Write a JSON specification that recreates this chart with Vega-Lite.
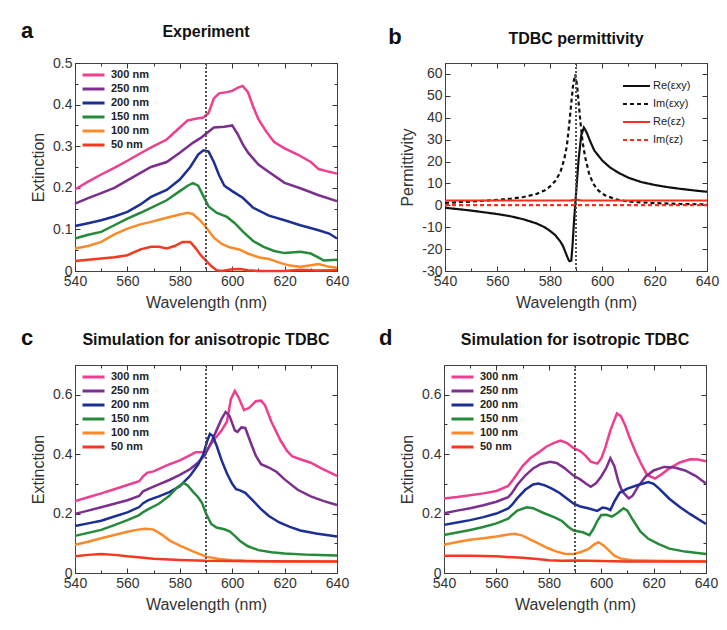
{
"$schema":"https://vega.github.io/schema/vega-lite/v6.json",
"padding":{"left":21,"top":19,"right":10,"bottom":5},
"background":"white",
"config":{
 "font":"Liberation Sans",
 "view":{"stroke":"#444","strokeWidth":1},
 "axis":{"labelFontSize":14,"titleFontSize":16,"titleFontWeight":"normal","labelColor":"#333","titleColor":"#333","domain":false,"grid":false,"tickColor":"#333","tickWidth":1,"labelFlush":false,"labelOverlap":false,"titlePadding":6},
 "title":{"fontSize":16,"fontWeight":"bold","color":"#111"}
},
"datasets":{
"a":[
{"s":"300 nm","w":540,"v":0.196},{"s":"300 nm","w":545,"v":0.215},{"s":"300 nm","w":550,"v":0.232},{"s":"300 nm","w":555,"v":0.248},{"s":"300 nm","w":560,"v":0.265},{"s":"300 nm","w":565,"v":0.283},{"s":"300 nm","w":570,"v":0.3},{"s":"300 nm","w":575,"v":0.316},{"s":"300 nm","w":580,"v":0.345},{"s":"300 nm","w":583,"v":0.362},{"s":"300 nm","w":586,"v":0.366},{"s":"300 nm","w":589,"v":0.369},{"s":"300 nm","w":591,"v":0.38},{"s":"300 nm","w":593,"v":0.415},{"s":"300 nm","w":595,"v":0.427},{"s":"300 nm","w":598,"v":0.43},{"s":"300 nm","w":600,"v":0.433},{"s":"300 nm","w":602,"v":0.44},{"s":"300 nm","w":604,"v":0.445},{"s":"300 nm","w":606,"v":0.43},{"s":"300 nm","w":608,"v":0.395},{"s":"300 nm","w":610,"v":0.365},{"s":"300 nm","w":613,"v":0.335},{"s":"300 nm","w":616,"v":0.31},{"s":"300 nm","w":620,"v":0.295},{"s":"300 nm","w":625,"v":0.28},{"s":"300 nm","w":630,"v":0.262},{"s":"300 nm","w":633,"v":0.245},{"s":"300 nm","w":636,"v":0.24},{"s":"300 nm","w":640,"v":0.234},
{"s":"250 nm","w":540,"v":0.162},{"s":"250 nm","w":545,"v":0.175},{"s":"250 nm","w":550,"v":0.187},{"s":"250 nm","w":555,"v":0.2},{"s":"250 nm","w":560,"v":0.218},{"s":"250 nm","w":565,"v":0.236},{"s":"250 nm","w":569,"v":0.25},{"s":"250 nm","w":575,"v":0.262},{"s":"250 nm","w":580,"v":0.284},{"s":"250 nm","w":585,"v":0.308},{"s":"250 nm","w":588,"v":0.32},{"s":"250 nm","w":590,"v":0.33},{"s":"250 nm","w":593,"v":0.345},{"s":"250 nm","w":597,"v":0.347},{"s":"250 nm","w":600,"v":0.35},{"s":"250 nm","w":602,"v":0.33},{"s":"250 nm","w":604,"v":0.305},{"s":"250 nm","w":606,"v":0.285},{"s":"250 nm","w":610,"v":0.256},{"s":"250 nm","w":614,"v":0.238},{"s":"250 nm","w":620,"v":0.212},{"s":"250 nm","w":626,"v":0.199},{"s":"250 nm","w":633,"v":0.182},{"s":"250 nm","w":640,"v":0.168},
{"s":"200 nm","w":540,"v":0.108},{"s":"200 nm","w":545,"v":0.115},{"s":"200 nm","w":550,"v":0.122},{"s":"200 nm","w":555,"v":0.131},{"s":"200 nm","w":560,"v":0.142},{"s":"200 nm","w":565,"v":0.16},{"s":"200 nm","w":569,"v":0.178},{"s":"200 nm","w":575,"v":0.195},{"s":"200 nm","w":580,"v":0.22},{"s":"200 nm","w":584,"v":0.25},{"s":"200 nm","w":587,"v":0.28},{"s":"200 nm","w":589,"v":0.29},{"s":"200 nm","w":591,"v":0.287},{"s":"200 nm","w":593,"v":0.262},{"s":"200 nm","w":595,"v":0.23},{"s":"200 nm","w":597,"v":0.205},{"s":"200 nm","w":600,"v":0.192},{"s":"200 nm","w":604,"v":0.176},{"s":"200 nm","w":608,"v":0.152},{"s":"200 nm","w":614,"v":0.133},{"s":"200 nm","w":620,"v":0.122},{"s":"200 nm","w":626,"v":0.11},{"s":"200 nm","w":633,"v":0.098},{"s":"200 nm","w":637,"v":0.09},{"s":"200 nm","w":640,"v":0.078},
{"s":"150 nm","w":540,"v":0.078},{"s":"150 nm","w":545,"v":0.087},{"s":"150 nm","w":550,"v":0.094},{"s":"150 nm","w":555,"v":0.11},{"s":"150 nm","w":560,"v":0.126},{"s":"150 nm","w":565,"v":0.14},{"s":"150 nm","w":569,"v":0.152},{"s":"150 nm","w":575,"v":0.17},{"s":"150 nm","w":580,"v":0.192},{"s":"150 nm","w":583,"v":0.205},{"s":"150 nm","w":585,"v":0.211},{"s":"150 nm","w":587,"v":0.205},{"s":"150 nm","w":589,"v":0.18},{"s":"150 nm","w":591,"v":0.155},{"s":"150 nm","w":594,"v":0.14},{"s":"150 nm","w":598,"v":0.13},{"s":"150 nm","w":601,"v":0.115},{"s":"150 nm","w":604,"v":0.095},{"s":"150 nm","w":608,"v":0.072},{"s":"150 nm","w":612,"v":0.058},{"s":"150 nm","w":616,"v":0.048},{"s":"150 nm","w":620,"v":0.043},{"s":"150 nm","w":626,"v":0.046},{"s":"150 nm","w":630,"v":0.042},{"s":"150 nm","w":633,"v":0.032},{"s":"150 nm","w":635,"v":0.025},{"s":"150 nm","w":640,"v":0.027},
{"s":"100 nm","w":540,"v":0.054},{"s":"100 nm","w":545,"v":0.06},{"s":"100 nm","w":550,"v":0.07},{"s":"100 nm","w":555,"v":0.088},{"s":"100 nm","w":560,"v":0.102},{"s":"100 nm","w":565,"v":0.112},{"s":"100 nm","w":569,"v":0.118},{"s":"100 nm","w":575,"v":0.128},{"s":"100 nm","w":580,"v":0.136},{"s":"100 nm","w":583,"v":0.14},{"s":"100 nm","w":585,"v":0.137},{"s":"100 nm","w":588,"v":0.12},{"s":"100 nm","w":590,"v":0.105},{"s":"100 nm","w":593,"v":0.08},{"s":"100 nm","w":596,"v":0.065},{"s":"100 nm","w":599,"v":0.057},{"s":"100 nm","w":603,"v":0.051},{"s":"100 nm","w":606,"v":0.042},{"s":"100 nm","w":610,"v":0.033},{"s":"100 nm","w":614,"v":0.029},{"s":"100 nm","w":618,"v":0.02},{"s":"100 nm","w":622,"v":0.013},{"s":"100 nm","w":626,"v":0.01},{"s":"100 nm","w":630,"v":0.014},{"s":"100 nm","w":633,"v":0.017},{"s":"100 nm","w":637,"v":0.01},{"s":"100 nm","w":640,"v":0.008},
{"s":"50 nm","w":540,"v":0.024},{"s":"50 nm","w":545,"v":0.027},{"s":"50 nm","w":550,"v":0.03},{"s":"50 nm","w":555,"v":0.033},{"s":"50 nm","w":560,"v":0.038},{"s":"50 nm","w":565,"v":0.052},{"s":"50 nm","w":569,"v":0.058},{"s":"50 nm","w":572,"v":0.058},{"s":"50 nm","w":575,"v":0.054},{"s":"50 nm","w":578,"v":0.06},{"s":"50 nm","w":581,"v":0.07},{"s":"50 nm","w":584,"v":0.07},{"s":"50 nm","w":586,"v":0.055},{"s":"50 nm","w":588,"v":0.038},{"s":"50 nm","w":590,"v":0.025},{"s":"50 nm","w":592,"v":0.012},{"s":"50 nm","w":594,"v":0.002},{"s":"50 nm","w":596,"v":0.0},{"s":"50 nm","w":600,"v":0.004},{"s":"50 nm","w":603,"v":0.005},{"s":"50 nm","w":606,"v":0.002},{"s":"50 nm","w":610,"v":0.0},{"s":"50 nm","w":620,"v":0.0},{"s":"50 nm","w":626,"v":0.003},{"s":"50 nm","w":632,"v":0.001},{"s":"50 nm","w":640,"v":0.002}
],
"b":[
{"s":"Re(εxy)","w":540,"v":-1.1},{"s":"Re(εxy)","w":550,"v":-2.4},{"s":"Re(εxy)","w":560,"v":-4.0},{"s":"Re(εxy)","w":565,"v":-5.0},{"s":"Re(εxy)","w":570,"v":-6.4},{"s":"Re(εxy)","w":575,"v":-8.3},{"s":"Re(εxy)","w":578,"v":-10},{"s":"Re(εxy)","w":580,"v":-11.6},{"s":"Re(εxy)","w":582,"v":-13.5},{"s":"Re(εxy)","w":584,"v":-16.5},{"s":"Re(εxy)","w":585,"v":-18.5},{"s":"Re(εxy)","w":586,"v":-21.5},{"s":"Re(εxy)","w":587,"v":-24.5},{"s":"Re(εxy)","w":587.5,"v":-25.5},{"s":"Re(εxy)","w":588.2,"v":-25.3},{"s":"Re(εxy)","w":588.7,"v":-18},{"s":"Re(εxy)","w":589.2,"v":-8},{"s":"Re(εxy)","w":589.7,"v":0},{"s":"Re(εxy)","w":590.3,"v":10},{"s":"Re(εxy)","w":591,"v":21},{"s":"Re(εxy)","w":592,"v":32},{"s":"Re(εxy)","w":593,"v":35.5},{"s":"Re(εxy)","w":594,"v":33.5},{"s":"Re(εxy)","w":595.5,"v":29},{"s":"Re(εxy)","w":597,"v":25},{"s":"Re(εxy)","w":600,"v":20.5},{"s":"Re(εxy)","w":603,"v":17.3},{"s":"Re(εxy)","w":606,"v":15},{"s":"Re(εxy)","w":610,"v":12.6},{"s":"Re(εxy)","w":615,"v":10.6},{"s":"Re(εxy)","w":620,"v":9.3},{"s":"Re(εxy)","w":625,"v":8.3},{"s":"Re(εxy)","w":630,"v":7.5},{"s":"Re(εxy)","w":635,"v":6.8},{"s":"Re(εxy)","w":640,"v":6.2},
{"s":"Im(εxy)","w":540,"v":1.1},{"s":"Im(εxy)","w":550,"v":1.7},{"s":"Im(εxy)","w":560,"v":2.5},{"s":"Im(εxy)","w":565,"v":3},{"s":"Im(εxy)","w":570,"v":3.8},{"s":"Im(εxy)","w":575,"v":5.2},{"s":"Im(εxy)","w":578,"v":6.8},{"s":"Im(εxy)","w":580,"v":8.5},{"s":"Im(εxy)","w":582,"v":11},{"s":"Im(εxy)","w":584,"v":15},{"s":"Im(εxy)","w":585.5,"v":21},{"s":"Im(εxy)","w":586.5,"v":27},{"s":"Im(εxy)","w":587.5,"v":38},{"s":"Im(εxy)","w":588.3,"v":48},{"s":"Im(εxy)","w":589,"v":56},{"s":"Im(εxy)","w":589.7,"v":59.8},{"s":"Im(εxy)","w":590.4,"v":55},{"s":"Im(εxy)","w":591,"v":47},{"s":"Im(εxy)","w":591.7,"v":38},{"s":"Im(εxy)","w":592.5,"v":29},{"s":"Im(εxy)","w":593.5,"v":22},{"s":"Im(εxy)","w":595,"v":14.5},{"s":"Im(εxy)","w":596.5,"v":10},{"s":"Im(εxy)","w":598.5,"v":6.8},{"s":"Im(εxy)","w":601,"v":4.6},{"s":"Im(εxy)","w":605,"v":2.8},{"s":"Im(εxy)","w":610,"v":1.7},{"s":"Im(εxy)","w":620,"v":1},{"s":"Im(εxy)","w":630,"v":0.6},{"s":"Im(εxy)","w":640,"v":0.4},
{"s":"Re(εz)","w":540,"v":2.2},{"s":"Re(εz)","w":588,"v":2.2},{"s":"Re(εz)","w":590,"v":2.6},{"s":"Re(εz)","w":592,"v":2.2},{"s":"Re(εz)","w":640,"v":2.2},
{"s":"Im(εz)","w":540,"v":0.05},{"s":"Im(εz)","w":640,"v":0.05}
],
"c":[
{"s":"300 nm","w":540,"v":0.242},{"s":"300 nm","w":545,"v":0.255},{"s":"300 nm","w":550,"v":0.268},{"s":"300 nm","w":555,"v":0.282},{"s":"300 nm","w":560,"v":0.296},{"s":"300 nm","w":564.5,"v":0.309},{"s":"300 nm","w":566,"v":0.325},{"s":"300 nm","w":567.5,"v":0.337},{"s":"300 nm","w":570,"v":0.342},{"s":"300 nm","w":575,"v":0.362},{"s":"300 nm","w":580,"v":0.379},{"s":"300 nm","w":584,"v":0.397},{"s":"300 nm","w":586,"v":0.406},{"s":"300 nm","w":589,"v":0.407},{"s":"300 nm","w":590.5,"v":0.415},{"s":"300 nm","w":593,"v":0.448},{"s":"300 nm","w":596,"v":0.48},{"s":"300 nm","w":598,"v":0.51},{"s":"300 nm","w":599.5,"v":0.585},{"s":"300 nm","w":601,"v":0.613},{"s":"300 nm","w":602.5,"v":0.59},{"s":"300 nm","w":604.5,"v":0.548},{"s":"300 nm","w":606.5,"v":0.556},{"s":"300 nm","w":609,"v":0.578},{"s":"300 nm","w":611,"v":0.58},{"s":"300 nm","w":612.5,"v":0.565},{"s":"300 nm","w":615,"v":0.508},{"s":"300 nm","w":618.5,"v":0.445},{"s":"300 nm","w":621,"v":0.41},{"s":"300 nm","w":623,"v":0.392},{"s":"300 nm","w":626,"v":0.383},{"s":"300 nm","w":630,"v":0.371},{"s":"300 nm","w":634,"v":0.352},{"s":"300 nm","w":640,"v":0.327},
{"s":"250 nm","w":540,"v":0.199},{"s":"250 nm","w":545,"v":0.21},{"s":"250 nm","w":550,"v":0.221},{"s":"250 nm","w":555,"v":0.233},{"s":"250 nm","w":560,"v":0.245},{"s":"250 nm","w":564.5,"v":0.259},{"s":"250 nm","w":566,"v":0.275},{"s":"250 nm","w":568,"v":0.283},{"s":"250 nm","w":572,"v":0.298},{"s":"250 nm","w":576,"v":0.313},{"s":"250 nm","w":580,"v":0.33},{"s":"250 nm","w":584,"v":0.35},{"s":"250 nm","w":587,"v":0.372},{"s":"250 nm","w":589.5,"v":0.395},{"s":"250 nm","w":592,"v":0.44},{"s":"250 nm","w":594,"v":0.48},{"s":"250 nm","w":596,"v":0.52},{"s":"250 nm","w":597.5,"v":0.542},{"s":"250 nm","w":599,"v":0.528},{"s":"250 nm","w":601,"v":0.48},{"s":"250 nm","w":602,"v":0.475},{"s":"250 nm","w":603.5,"v":0.49},{"s":"250 nm","w":605,"v":0.488},{"s":"250 nm","w":607,"v":0.44},{"s":"250 nm","w":609,"v":0.395},{"s":"250 nm","w":611,"v":0.366},{"s":"250 nm","w":614,"v":0.355},{"s":"250 nm","w":617,"v":0.34},{"s":"250 nm","w":620,"v":0.315},{"s":"250 nm","w":625,"v":0.28},{"s":"250 nm","w":630,"v":0.258},{"s":"250 nm","w":635,"v":0.242},{"s":"250 nm","w":640,"v":0.229},
{"s":"200 nm","w":540,"v":0.158},{"s":"200 nm","w":545,"v":0.167},{"s":"200 nm","w":550,"v":0.176},{"s":"200 nm","w":555,"v":0.19},{"s":"200 nm","w":560,"v":0.204},{"s":"200 nm","w":564.5,"v":0.222},{"s":"200 nm","w":566,"v":0.235},{"s":"200 nm","w":568,"v":0.245},{"s":"200 nm","w":572,"v":0.258},{"s":"200 nm","w":576,"v":0.272},{"s":"200 nm","w":580,"v":0.292},{"s":"200 nm","w":584,"v":0.328},{"s":"200 nm","w":587,"v":0.365},{"s":"200 nm","w":589,"v":0.4},{"s":"200 nm","w":590.5,"v":0.445},{"s":"200 nm","w":591.5,"v":0.468},{"s":"200 nm","w":592.5,"v":0.462},{"s":"200 nm","w":594,"v":0.43},{"s":"200 nm","w":596,"v":0.378},{"s":"200 nm","w":598,"v":0.335},{"s":"200 nm","w":600,"v":0.3},{"s":"200 nm","w":601.5,"v":0.282},{"s":"200 nm","w":603,"v":0.278},{"s":"200 nm","w":605,"v":0.27},{"s":"200 nm","w":608,"v":0.243},{"s":"200 nm","w":611,"v":0.215},{"s":"200 nm","w":614,"v":0.192},{"s":"200 nm","w":618,"v":0.17},{"s":"200 nm","w":622,"v":0.155},{"s":"200 nm","w":626,"v":0.143},{"s":"200 nm","w":632,"v":0.133},{"s":"200 nm","w":640,"v":0.123},
{"s":"150 nm","w":540,"v":0.125},{"s":"150 nm","w":545,"v":0.135},{"s":"150 nm","w":550,"v":0.145},{"s":"150 nm","w":555,"v":0.161},{"s":"150 nm","w":560,"v":0.178},{"s":"150 nm","w":564.5,"v":0.195},{"s":"150 nm","w":566,"v":0.205},{"s":"150 nm","w":568,"v":0.215},{"s":"150 nm","w":572,"v":0.233},{"s":"150 nm","w":576,"v":0.26},{"s":"150 nm","w":579,"v":0.288},{"s":"150 nm","w":581.5,"v":0.303},{"s":"150 nm","w":583,"v":0.295},{"s":"150 nm","w":585,"v":0.274},{"s":"150 nm","w":587,"v":0.255},{"s":"150 nm","w":588.5,"v":0.235},{"s":"150 nm","w":590,"v":0.2},{"s":"150 nm","w":592,"v":0.165},{"s":"150 nm","w":594,"v":0.153},{"s":"150 nm","w":597,"v":0.147},{"s":"150 nm","w":599,"v":0.14},{"s":"150 nm","w":601,"v":0.125},{"s":"150 nm","w":603,"v":0.108},{"s":"150 nm","w":606,"v":0.09},{"s":"150 nm","w":610,"v":0.077},{"s":"150 nm","w":615,"v":0.07},{"s":"150 nm","w":620,"v":0.066},{"s":"150 nm","w":630,"v":0.061},{"s":"150 nm","w":640,"v":0.059},
{"s":"100 nm","w":540,"v":0.095},{"s":"100 nm","w":545,"v":0.105},{"s":"100 nm","w":550,"v":0.117},{"s":"100 nm","w":555,"v":0.128},{"s":"100 nm","w":560,"v":0.139},{"s":"100 nm","w":564,"v":0.146},{"s":"100 nm","w":567,"v":0.149},{"s":"100 nm","w":570,"v":0.146},{"s":"100 nm","w":573,"v":0.13},{"s":"100 nm","w":576,"v":0.11},{"s":"100 nm","w":580,"v":0.092},{"s":"100 nm","w":585,"v":0.073},{"s":"100 nm","w":590,"v":0.055},{"s":"100 nm","w":595,"v":0.047},{"s":"100 nm","w":600,"v":0.043},{"s":"100 nm","w":605,"v":0.041},{"s":"100 nm","w":620,"v":0.039},{"s":"100 nm","w":640,"v":0.039},
{"s":"50 nm","w":540,"v":0.056},{"s":"50 nm","w":545,"v":0.061},{"s":"50 nm","w":550,"v":0.064},{"s":"50 nm","w":555,"v":0.061},{"s":"50 nm","w":560,"v":0.056},{"s":"50 nm","w":565,"v":0.052},{"s":"50 nm","w":570,"v":0.048},{"s":"50 nm","w":580,"v":0.044},{"s":"50 nm","w":590,"v":0.041},{"s":"50 nm","w":600,"v":0.04},{"s":"50 nm","w":640,"v":0.039}
],
"d":[
{"s":"300 nm","w":540,"v":0.251},{"s":"300 nm","w":545,"v":0.256},{"s":"300 nm","w":550,"v":0.262},{"s":"300 nm","w":555,"v":0.268},{"s":"300 nm","w":560,"v":0.276},{"s":"300 nm","w":564.5,"v":0.293},{"s":"300 nm","w":566,"v":0.31},{"s":"300 nm","w":568,"v":0.335},{"s":"300 nm","w":570,"v":0.36},{"s":"300 nm","w":573,"v":0.387},{"s":"300 nm","w":576,"v":0.405},{"s":"300 nm","w":579,"v":0.425},{"s":"300 nm","w":582,"v":0.438},{"s":"300 nm","w":584.5,"v":0.446},{"s":"300 nm","w":587,"v":0.437},{"s":"300 nm","w":589.5,"v":0.42},{"s":"300 nm","w":592,"v":0.41},{"s":"300 nm","w":594,"v":0.395},{"s":"300 nm","w":596,"v":0.375},{"s":"300 nm","w":598.5,"v":0.368},{"s":"300 nm","w":600,"v":0.385},{"s":"300 nm","w":601.5,"v":0.42},{"s":"300 nm","w":603.5,"v":0.48},{"s":"300 nm","w":606,"v":0.537},{"s":"300 nm","w":607.5,"v":0.528},{"s":"300 nm","w":609,"v":0.5},{"s":"300 nm","w":611,"v":0.452},{"s":"300 nm","w":613,"v":0.41},{"s":"300 nm","w":615,"v":0.372},{"s":"300 nm","w":617.5,"v":0.33},{"s":"300 nm","w":620.5,"v":0.318},{"s":"300 nm","w":623,"v":0.332},{"s":"300 nm","w":626,"v":0.352},{"s":"300 nm","w":630,"v":0.372},{"s":"300 nm","w":634,"v":0.383},{"s":"300 nm","w":637,"v":0.382},{"s":"300 nm","w":640,"v":0.376},
{"s":"250 nm","w":540,"v":0.201},{"s":"250 nm","w":545,"v":0.21},{"s":"250 nm","w":550,"v":0.218},{"s":"250 nm","w":555,"v":0.228},{"s":"250 nm","w":560,"v":0.24},{"s":"250 nm","w":564.5,"v":0.255},{"s":"250 nm","w":566,"v":0.27},{"s":"250 nm","w":568,"v":0.297},{"s":"250 nm","w":571,"v":0.328},{"s":"250 nm","w":574,"v":0.352},{"s":"250 nm","w":577,"v":0.367},{"s":"250 nm","w":580.5,"v":0.374},{"s":"250 nm","w":583,"v":0.37},{"s":"250 nm","w":586,"v":0.353},{"s":"250 nm","w":589.5,"v":0.327},{"s":"250 nm","w":592,"v":0.315},{"s":"250 nm","w":594,"v":0.302},{"s":"250 nm","w":596,"v":0.29},{"s":"250 nm","w":598,"v":0.302},{"s":"250 nm","w":600,"v":0.325},{"s":"250 nm","w":602,"v":0.355},{"s":"250 nm","w":603.5,"v":0.386},{"s":"250 nm","w":605,"v":0.36},{"s":"250 nm","w":606.5,"v":0.31},{"s":"250 nm","w":608,"v":0.275},{"s":"250 nm","w":610.5,"v":0.251},{"s":"250 nm","w":612,"v":0.26},{"s":"250 nm","w":614,"v":0.29},{"s":"250 nm","w":617,"v":0.325},{"s":"250 nm","w":620,"v":0.345},{"s":"250 nm","w":624,"v":0.357},{"s":"250 nm","w":628,"v":0.355},{"s":"250 nm","w":632,"v":0.345},{"s":"250 nm","w":636,"v":0.327},{"s":"250 nm","w":640,"v":0.301},
{"s":"200 nm","w":540,"v":0.162},{"s":"200 nm","w":545,"v":0.17},{"s":"200 nm","w":550,"v":0.178},{"s":"200 nm","w":555,"v":0.188},{"s":"200 nm","w":560,"v":0.2},{"s":"200 nm","w":564.5,"v":0.217},{"s":"200 nm","w":566,"v":0.23},{"s":"200 nm","w":568,"v":0.252},{"s":"200 nm","w":571,"v":0.28},{"s":"200 nm","w":574,"v":0.298},{"s":"200 nm","w":576,"v":0.301},{"s":"200 nm","w":578.5,"v":0.295},{"s":"200 nm","w":581,"v":0.285},{"s":"200 nm","w":584,"v":0.27},{"s":"200 nm","w":587,"v":0.25},{"s":"200 nm","w":589.5,"v":0.233},{"s":"200 nm","w":592,"v":0.224},{"s":"200 nm","w":595,"v":0.218},{"s":"200 nm","w":598.5,"v":0.209},{"s":"200 nm","w":600.5,"v":0.22},{"s":"200 nm","w":602,"v":0.218},{"s":"200 nm","w":603.5,"v":0.212},{"s":"200 nm","w":605,"v":0.24},{"s":"200 nm","w":607,"v":0.27},{"s":"200 nm","w":610,"v":0.284},{"s":"200 nm","w":614,"v":0.296},{"s":"200 nm","w":618,"v":0.306},{"s":"200 nm","w":620,"v":0.3},{"s":"200 nm","w":622,"v":0.285},{"s":"200 nm","w":626,"v":0.25},{"s":"200 nm","w":630,"v":0.222},{"s":"200 nm","w":634,"v":0.198},{"s":"200 nm","w":640,"v":0.165},
{"s":"150 nm","w":540,"v":0.128},{"s":"150 nm","w":545,"v":0.136},{"s":"150 nm","w":550,"v":0.145},{"s":"150 nm","w":555,"v":0.155},{"s":"150 nm","w":560,"v":0.167},{"s":"150 nm","w":564.5,"v":0.183},{"s":"150 nm","w":566,"v":0.195},{"s":"150 nm","w":568,"v":0.21},{"s":"150 nm","w":571.5,"v":0.221},{"s":"150 nm","w":574,"v":0.218},{"s":"150 nm","w":578,"v":0.202},{"s":"150 nm","w":582,"v":0.188},{"s":"150 nm","w":585,"v":0.175},{"s":"150 nm","w":587.5,"v":0.155},{"s":"150 nm","w":589.5,"v":0.143},{"s":"150 nm","w":593,"v":0.137},{"s":"150 nm","w":595.5,"v":0.127},{"s":"150 nm","w":597,"v":0.148},{"s":"150 nm","w":598.5,"v":0.175},{"s":"150 nm","w":600,"v":0.195},{"s":"150 nm","w":602,"v":0.196},{"s":"150 nm","w":604,"v":0.19},{"s":"150 nm","w":606,"v":0.2},{"s":"150 nm","w":608.5,"v":0.218},{"s":"150 nm","w":610,"v":0.21},{"s":"150 nm","w":612,"v":0.18},{"s":"150 nm","w":615,"v":0.139},{"s":"150 nm","w":618,"v":0.115},{"s":"150 nm","w":622,"v":0.097},{"s":"150 nm","w":626,"v":0.082},{"s":"150 nm","w":632,"v":0.072},{"s":"150 nm","w":640,"v":0.064},
{"s":"100 nm","w":540,"v":0.095},{"s":"100 nm","w":545,"v":0.104},{"s":"100 nm","w":550,"v":0.112},{"s":"100 nm","w":555,"v":0.117},{"s":"100 nm","w":560,"v":0.123},{"s":"100 nm","w":564,"v":0.129},{"s":"100 nm","w":567,"v":0.132},{"s":"100 nm","w":570,"v":0.126},{"s":"100 nm","w":573,"v":0.112},{"s":"100 nm","w":576,"v":0.1},{"s":"100 nm","w":579.5,"v":0.084},{"s":"100 nm","w":583,"v":0.072},{"s":"100 nm","w":586,"v":0.065},{"s":"100 nm","w":589.5,"v":0.064},{"s":"100 nm","w":592,"v":0.07},{"s":"100 nm","w":595,"v":0.08},{"s":"100 nm","w":597.5,"v":0.097},{"s":"100 nm","w":599,"v":0.104},{"s":"100 nm","w":601,"v":0.092},{"s":"100 nm","w":603,"v":0.075},{"s":"100 nm","w":605,"v":0.058},{"s":"100 nm","w":608,"v":0.047},{"s":"100 nm","w":612,"v":0.043},{"s":"100 nm","w":620,"v":0.041},{"s":"100 nm","w":640,"v":0.039},
{"s":"50 nm","w":540,"v":0.058},{"s":"50 nm","w":550,"v":0.058},{"s":"50 nm","w":560,"v":0.056},{"s":"50 nm","w":570,"v":0.051},{"s":"50 nm","w":575.5,"v":0.047},{"s":"50 nm","w":580,"v":0.043},{"s":"50 nm","w":585,"v":0.041},{"s":"50 nm","w":590,"v":0.042},{"s":"50 nm","w":600,"v":0.04},{"s":"50 nm","w":610,"v":0.039},{"s":"50 nm","w":640,"v":0.039}
]
},
"resolve":{"scale":{"color":"independent","strokeDash":"independent"},"legend":{"color":"independent","strokeDash":"independent"}},
"spacing":16,
"vconcat":[
{"hconcat":[
 {"title":{"text":"a","anchor":"start","fontSize":22,"fontWeight":"bold","color":"#111","dy":19,"dx":-9,"offset":0},
  "resolve":{"scale":{"color":"independent"},"legend":{"color":"independent"}},
  "vconcat":[{
  "title":{"text":"Experiment","anchor":"middle","frame":"group","offset":16},
  "width":262,"height":208,
  "data":{"name":"a"},
  "resolve":{"axis":{"x":"independent","y":"independent"}},
  "layer":[
   {"mark":{"type":"line","strokeWidth":2.5},
    "encoding":{
     "x":{"field":"w","type":"quantitative","scale":{"domain":[540,640],"nice":false,"zero":false},"axis":{"orient":"bottom","values":[540,560,580,600,620,640],"tickSize":-5,"labelPadding":8,"title":"Wavelength (nm)"}},
     "y":{"field":"v","type":"quantitative","scale":{"domain":[0,0.5],"nice":false},"axis":{"orient":"left","values":[0,0.1,0.2,0.3,0.4,0.5],"tickSize":-5,"labelPadding":8,"title":"Extinction","labelExpr":"datum.value === 0 ? '0' : format(datum.value, '.1f')"}},
     "color":{"field":"s","type":"nominal","sort":null,"scale":{"domain":["300 nm","250 nm","200 nm","150 nm","100 nm","50 nm"],"range":["#ee3f8f","#7b2f8e","#1b2f94","#268a3a","#fb8a2a","#f5381f"]},
      "legend":{"orient":"top-left","offset":6,"title":null,"symbolType":"stroke","symbolSize":484,"symbolStrokeWidth":3,"labelFontSize":11,"labelFontWeight":"bold","labelColor":"#222","clipHeight":12,"rowPadding":2,"padding":0,"labelOffset":5}}}},
   {"mark":{"type":"rule","strokeDash":[2,2],"color":"#555","strokeWidth":1},
    "encoding":{"x":{"datum":590,"type":"quantitative","scale":{"domain":[540,640],"nice":false,"zero":false},"axis":{"orient":"top","values":[540,560,580,600,620,640],"tickSize":-5,"labels":false,"title":null}}}},
   {"mark":{"type":"point","opacity":0},
    "encoding":{
     "x":{"field":"w","type":"quantitative","scale":{"domain":[540,640],"nice":false,"zero":false},"axis":{"orient":"bottom","values":[550,570,590,610,630],"tickSize":-3,"labels":false,"title":null}},
     "y":{"field":"v","type":"quantitative","scale":{"domain":[0,0.5],"nice":false},"axis":{"orient":"right","values":[0,0.1,0.2,0.3,0.4,0.5],"tickSize":-5,"labels":false,"title":null}}}},
   {"mark":{"type":"point","opacity":0},
    "encoding":{
     "x":{"field":"w","type":"quantitative","scale":{"domain":[540,640],"nice":false,"zero":false},"axis":{"orient":"top","values":[550,570,590,610,630],"tickSize":-3,"labels":false,"title":null}},
     "y":{"field":"v","type":"quantitative","scale":{"domain":[0,0.5],"nice":false},"axis":{"orient":"right","values":[0.05,0.15,0.25,0.35,0.45],"tickSize":-3,"labels":false,"title":null}}}},
   {"mark":{"type":"point","opacity":0},
    "encoding":{
     "x":{"field":"w","type":"quantitative","scale":{"domain":[540,640],"nice":false,"zero":false},"axis":null},
     "y":{"field":"v","type":"quantitative","scale":{"domain":[0,0.5],"nice":false},"axis":{"orient":"left","values":[0.05,0.15,0.25,0.35,0.45],"tickSize":-3,"labels":false,"title":null}}}}
  ]}]},
 {"title":{"text":"b","anchor":"start","fontSize":22,"fontWeight":"bold","color":"#111","dy":19,"dx":-11,"offset":0},
  "resolve":{"scale":{"color":"independent","strokeDash":"independent"},"legend":{"color":"independent","strokeDash":"independent"}},
  "vconcat":[{
  "title":{"text":"TDBC permittivity","anchor":"middle","frame":"group","offset":16},
  "width":262,"height":208,
  "data":{"name":"b"},
  "resolve":{"axis":{"x":"independent","y":"independent"}},
  "layer":[
   {"mark":{"type":"line","strokeWidth":2.2},
    "encoding":{
     "x":{"field":"w","type":"quantitative","scale":{"domain":[540,640],"nice":false,"zero":false},"axis":{"orient":"bottom","values":[540,560,580,600,620,640],"tickSize":-5,"labelPadding":8,"title":"Wavelength (nm)"}},
     "y":{"field":"v","type":"quantitative","scale":{"domain":[-30,65],"nice":false},"axis":{"orient":"left","values":[-30,-20,-10,0,10,20,30,40,50,60],"tickSize":-5,"labelPadding":8,"title":"Permittivity","labelExpr":"'' + datum.value"}},
     "color":{"field":"s","type":"nominal","sort":null,"scale":{"domain":["Re(εxy)","Im(εxy)","Re(εz)","Im(εz)"],"range":["#111111","#111111","#f5301c","#f5301c"]},
      "legend":{"orient":"top-right","offset":16,"title":null,"symbolType":"stroke","symbolSize":729,"symbolStrokeWidth":2,"labelFontSize":11,"labelColor":"#222","clipHeight":14,"rowPadding":4,"padding":0,"labelOffset":2}},
     "strokeDash":{"field":"s","type":"nominal","sort":null,"scale":{"domain":["Re(εxy)","Im(εxy)","Re(εz)","Im(εz)"],"range":[[1,0],[4,3],[1,0],[4,3]]},
      "legend":{"orient":"top-right","offset":16,"title":null,"symbolType":"stroke","symbolSize":729,"symbolStrokeWidth":2,"labelFontSize":11,"labelColor":"#222","clipHeight":14,"rowPadding":4,"padding":0,"labelOffset":2}}}},
   {"mark":{"type":"rule","strokeDash":[2,2],"color":"#555","strokeWidth":1},
    "encoding":{"x":{"datum":590,"type":"quantitative","scale":{"domain":[540,640],"nice":false,"zero":false},"axis":{"orient":"top","values":[540,560,580,600,620,640],"tickSize":-5,"labels":false,"title":null}}}},
   {"mark":{"type":"point","opacity":0},
    "encoding":{
     "x":{"field":"w","type":"quantitative","scale":{"domain":[540,640],"nice":false,"zero":false},"axis":{"orient":"bottom","values":[550,570,590,610,630],"tickSize":-3,"labels":false,"title":null}},
     "y":{"field":"v","type":"quantitative","scale":{"domain":[-30,65],"nice":false},"axis":{"orient":"right","values":[-30,-20,-10,0,10,20,30,40,50,60],"tickSize":-5,"labels":false,"title":null}}}},
   {"mark":{"type":"point","opacity":0},
    "encoding":{
     "x":{"field":"w","type":"quantitative","scale":{"domain":[540,640],"nice":false,"zero":false},"axis":{"orient":"top","values":[550,570,590,610,630],"tickSize":-3,"labels":false,"title":null}},
     "y":{"field":"v","type":"quantitative","scale":{"domain":[-30,65],"nice":false},"axis":null}}}
  ]}]}
 ],"spacing":38,"resolve":{"scale":{"color":"independent","strokeDash":"independent"},"legend":{"color":"independent","strokeDash":"independent"}}},
{"hconcat":[
 {"title":{"text":"c","anchor":"start","fontSize":22,"fontWeight":"bold","color":"#111","dy":19,"dx":-9,"offset":0},
  "resolve":{"scale":{"color":"independent"},"legend":{"color":"independent"}},
  "vconcat":[{
  "title":{"text":"Simulation for anisotropic TDBC","anchor":"middle","frame":"group","offset":17},
  "width":262,"height":208,
  "data":{"name":"c"},
  "resolve":{"axis":{"x":"independent","y":"independent"}},
  "layer":[
   {"mark":{"type":"line","strokeWidth":2.5},
    "encoding":{
     "x":{"field":"w","type":"quantitative","scale":{"domain":[540,640],"nice":false,"zero":false},"axis":{"orient":"bottom","values":[540,560,580,600,620,640],"tickSize":-5,"labelPadding":8,"title":"Wavelength (nm)"}},
     "y":{"field":"v","type":"quantitative","scale":{"domain":[0,0.7],"nice":false},"axis":{"orient":"left","values":[0,0.2,0.4,0.6],"tickSize":-5,"labelPadding":8,"title":"Extinction","labelExpr":"datum.value === 0 ? '0' : format(datum.value, '.1f')"}},
     "color":{"field":"s","type":"nominal","sort":null,"scale":{"domain":["300 nm","250 nm","200 nm","150 nm","100 nm","50 nm"],"range":["#ee3f8f","#7b2f8e","#1b2f94","#268a3a","#fb8a2a","#f5381f"]},
      "legend":{"orient":"top-left","offset":6,"title":null,"symbolType":"stroke","symbolSize":484,"symbolStrokeWidth":3,"labelFontSize":11,"labelFontWeight":"bold","labelColor":"#222","clipHeight":12,"rowPadding":2,"padding":0,"labelOffset":5}}}},
   {"mark":{"type":"rule","strokeDash":[2,2],"color":"#555","strokeWidth":1},
    "encoding":{"x":{"datum":590,"type":"quantitative","scale":{"domain":[540,640],"nice":false,"zero":false},"axis":{"orient":"top","values":[540,560,580,600,620,640],"tickSize":-5,"labels":false,"title":null}}}},
   {"mark":{"type":"point","opacity":0},
    "encoding":{
     "x":{"field":"w","type":"quantitative","scale":{"domain":[540,640],"nice":false,"zero":false},"axis":{"orient":"bottom","values":[550,570,590,610,630],"tickSize":-3,"labels":false,"title":null}},
     "y":{"field":"v","type":"quantitative","scale":{"domain":[0,0.7],"nice":false},"axis":{"orient":"right","values":[0,0.2,0.4,0.6],"tickSize":-5,"labels":false,"title":null}}}},
   {"mark":{"type":"point","opacity":0},
    "encoding":{
     "x":{"field":"w","type":"quantitative","scale":{"domain":[540,640],"nice":false,"zero":false},"axis":{"orient":"top","values":[550,570,590,610,630],"tickSize":-3,"labels":false,"title":null}},
     "y":{"field":"v","type":"quantitative","scale":{"domain":[0,0.7],"nice":false},"axis":{"orient":"right","values":[0.1,0.3,0.5],"tickSize":-3,"labels":false,"title":null}}}},
   {"mark":{"type":"point","opacity":0},
    "encoding":{
     "x":{"field":"w","type":"quantitative","scale":{"domain":[540,640],"nice":false,"zero":false},"axis":null},
     "y":{"field":"v","type":"quantitative","scale":{"domain":[0,0.7],"nice":false},"axis":{"orient":"left","values":[0.1,0.3,0.5],"tickSize":-3,"labels":false,"title":null}}}}
  ]}]},
 {"title":{"text":"d","anchor":"start","fontSize":22,"fontWeight":"bold","color":"#111","dy":19,"dx":-20,"offset":0},
  "resolve":{"scale":{"color":"independent"},"legend":{"color":"independent"}},
  "vconcat":[{
  "title":{"text":"Simulation for isotropic TDBC","anchor":"middle","frame":"group","offset":17},
  "width":262,"height":208,
  "data":{"name":"d"},
  "resolve":{"axis":{"x":"independent","y":"independent"}},
  "layer":[
   {"mark":{"type":"line","strokeWidth":2.5},
    "encoding":{
     "x":{"field":"w","type":"quantitative","scale":{"domain":[540,640],"nice":false,"zero":false},"axis":{"orient":"bottom","values":[540,560,580,600,620,640],"tickSize":-5,"labelPadding":8,"title":"Wavelength (nm)"}},
     "y":{"field":"v","type":"quantitative","scale":{"domain":[0,0.7],"nice":false},"axis":{"orient":"left","values":[0,0.2,0.4,0.6],"tickSize":-5,"labelPadding":8,"title":"Extinction","labelExpr":"datum.value === 0 ? '0' : format(datum.value, '.1f')"}},
     "color":{"field":"s","type":"nominal","sort":null,"scale":{"domain":["300 nm","250 nm","200 nm","150 nm","100 nm","50 nm"],"range":["#ee3f8f","#7b2f8e","#1b2f94","#268a3a","#fb8a2a","#f5381f"]},
      "legend":{"orient":"top-left","offset":6,"title":null,"symbolType":"stroke","symbolSize":484,"symbolStrokeWidth":3,"labelFontSize":11,"labelFontWeight":"bold","labelColor":"#222","clipHeight":12,"rowPadding":2,"padding":0,"labelOffset":5}}}},
   {"mark":{"type":"rule","strokeDash":[2,2],"color":"#555","strokeWidth":1},
    "encoding":{"x":{"datum":590,"type":"quantitative","scale":{"domain":[540,640],"nice":false,"zero":false},"axis":{"orient":"top","values":[540,560,580,600,620,640],"tickSize":-5,"labels":false,"title":null}}}},
   {"mark":{"type":"point","opacity":0},
    "encoding":{
     "x":{"field":"w","type":"quantitative","scale":{"domain":[540,640],"nice":false,"zero":false},"axis":{"orient":"bottom","values":[550,570,590,610,630],"tickSize":-3,"labels":false,"title":null}},
     "y":{"field":"v","type":"quantitative","scale":{"domain":[0,0.7],"nice":false},"axis":{"orient":"right","values":[0,0.2,0.4,0.6],"tickSize":-5,"labels":false,"title":null}}}},
   {"mark":{"type":"point","opacity":0},
    "encoding":{
     "x":{"field":"w","type":"quantitative","scale":{"domain":[540,640],"nice":false,"zero":false},"axis":{"orient":"top","values":[550,570,590,610,630],"tickSize":-3,"labels":false,"title":null}},
     "y":{"field":"v","type":"quantitative","scale":{"domain":[0,0.7],"nice":false},"axis":{"orient":"right","values":[0.1,0.3,0.5],"tickSize":-3,"labels":false,"title":null}}}},
   {"mark":{"type":"point","opacity":0},
    "encoding":{
     "x":{"field":"w","type":"quantitative","scale":{"domain":[540,640],"nice":false,"zero":false},"axis":null},
     "y":{"field":"v","type":"quantitative","scale":{"domain":[0,0.7],"nice":false},"axis":{"orient":"left","values":[0.1,0.3,0.5],"tickSize":-3,"labels":false,"title":null}}}}
  ]}]}
 ],"spacing":29,"resolve":{"scale":{"color":"independent"},"legend":{"color":"independent"}}}
]
}
